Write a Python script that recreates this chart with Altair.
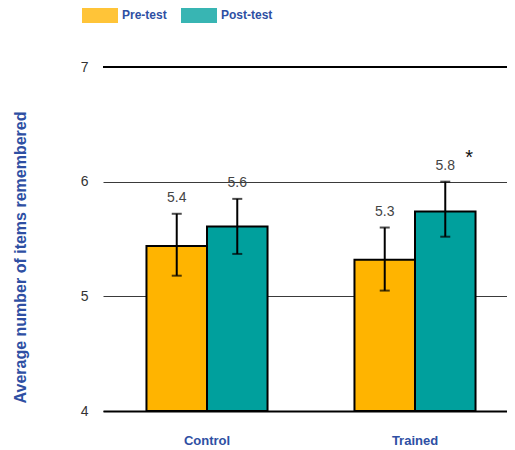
import altair as alt
import pandas as pd

groups = ["Control", "Control", "Trained", "Trained"]
tests = ["Pre-test", "Post-test", "Pre-test", "Post-test"]
means = [5.44, 5.61, 5.32, 5.74]
err_lo = [5.18, 5.37, 5.05, 5.52]
err_hi = [5.72, 5.85, 5.60, 6.00]
labels = ["5.4", "5.6", "5.3", "5.8"]
stars = ["", "", "", "*"]
test_order = ["Pre-test", "Post-test"]
colors = ["#FFB400", "#00A09D"]
y_ticks = [4, 5, 6, 7]

df = pd.DataFrame({"group": groups, "test": tests, "mean": means,
                   "lo": err_lo, "hi": err_hi, "label": labels, "star": stars})

FONT = "Liberation Sans"
BLUE = "#2E4FA3"

x = alt.X("group:N", title=None,
          scale=alt.Scale(range=[0, 416], paddingInner=0.418, paddingOuter=0.209),
          axis=alt.Axis(labelAngle=0, labelFont=FONT, labelFontSize=13, labelFontWeight="bold",
                        labelColor=BLUE, labelPadding=23, ticks=False,
                        domainColor="black", domainWidth=2))
xo = alt.XOffset("test:N", sort=test_order, scale=alt.Scale(paddingInner=0, paddingOuter=0))
yscale = alt.Scale(domain=[4, 7], nice=False, zero=False)

base = alt.Chart(df)

bars = base.mark_bar(stroke="black", strokeWidth=2).encode(
    x=x, xOffset=xo,
    y=alt.Y("mean:Q", scale=yscale, title="Average number of items  remembered",
            axis=alt.Axis(values=y_ticks, format="d", grid=True, gridColor="#3a3a3a", gridWidth=1,
                          ticks=False, domain=False, labelFont=FONT, labelFontSize=14,
                          labelColor="#333333", labelPadding=15,
                          titleFont=FONT, titleFontSize=16, titleFontWeight="bold",
                          titleColor=BLUE, titleX=-83, titleY=190, titleAngle=270,
                          titleAlign="center", titleBaseline="middle")),
    y2=alt.datum(4),
    color=alt.Color("test:N", sort=test_order,
                    scale=alt.Scale(domain=test_order, range=colors),
                    legend=alt.Legend(title=None, orient="none", legendX=-21, legendY=-70,
                                      direction="horizontal",
                                      symbolType="M-1,-0.44H1V0.44H-1Z", symbolSize=1296,
                                      symbolStrokeWidth=0, symbolOpacity=0.78,
                                      labelFont=FONT, labelFontSize=12, labelFontWeight="bold",
                                      labelColor=BLUE, columnPadding=14, labelOffset=4)),
)

err = base.mark_rule(color="black", strokeWidth=2).encode(
    x=x, xOffset=xo, y=alt.Y("lo:Q", scale=yscale), y2="hi:Q")
cap_lo = base.mark_tick(color="black", thickness=2, size=10).encode(
    x=x, xOffset=xo, y=alt.Y("lo:Q", scale=yscale))
cap_hi = base.mark_tick(color="black", thickness=2, size=10).encode(
    x=x, xOffset=xo, y=alt.Y("hi:Q", scale=yscale))

txt = base.mark_text(font=FONT, fontSize=14, color="#444444", baseline="bottom", dy=-9).encode(
    x=x, xOffset=xo, y=alt.Y("hi:Q", scale=yscale), text="label:N")
star = base.mark_text(font=FONT, fontSize=20, color="#111111", baseline="alphabetic", dx=24, dy=-18).encode(
    x=x, xOffset=xo, y=alt.Y("hi:Q", scale=yscale), text="star:N")

top_rule = alt.Chart(pd.DataFrame({"v": [7]})).mark_rule(color="black", strokeWidth=2).encode(
    y=alt.Y("v:Q", scale=yscale))

chart = alt.layer(bars, err, cap_lo, cap_hi, txt, star, top_rule).properties(
    width=404, height=344,
    padding={"left": 95, "top": 59, "right": 0, "bottom": 40},
    autosize=alt.AutoSizeParams(type="none"),
).configure_view(stroke=None)

chart.save("out.html", embed_options={"renderer": "svg", "actions": False})
